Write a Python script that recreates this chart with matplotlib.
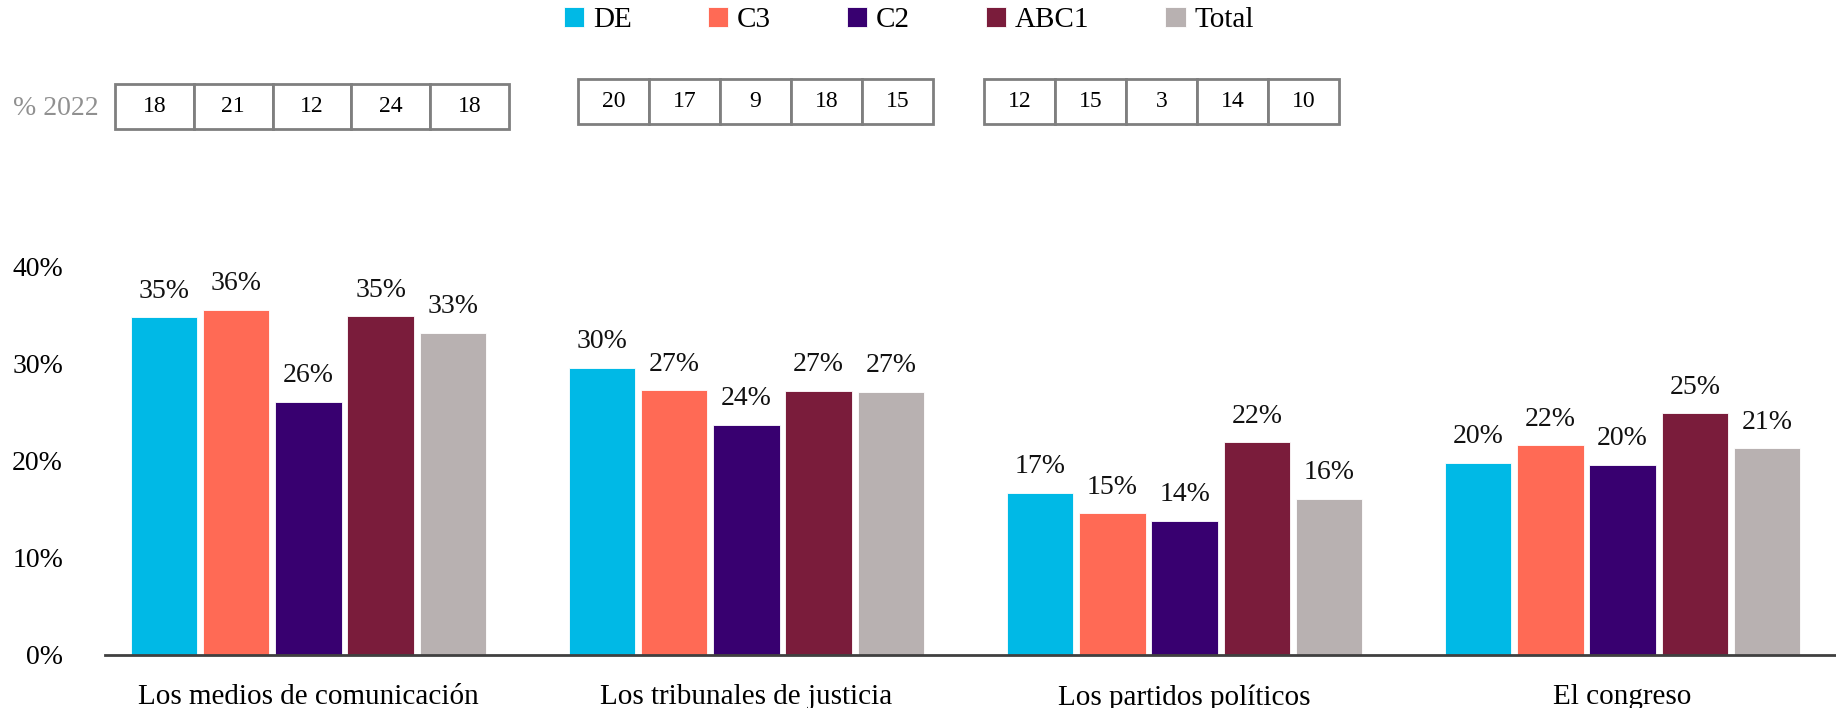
import matplotlib.pyplot as plt
import numpy as np

# datos
categorias = ['Los medios de comunicación', 'Los tribunales de justicia',
              'Los partidos políticos', 'El congreso']
series = ['DE', 'C3', 'C2', 'ABC1', 'Total']
de = [34.8, 29.6, 16.7, 19.8]
c3 = [35.6, 27.3, 14.6, 21.6]
c2 = [26.1, 23.7, 13.8, 19.6]
abc1 = [34.9, 27.2, 21.9, 24.9]
total = [33.2, 27.1, 16.1, 21.3]
colores = ['#00B9E6', '#FF6A55', '#380070', '#7A1C3B', '#B8B1B1']

# tabla % 2022 (solo las tres primeras categorías)
tabla_2022 = [[18, 21, 12, 24, 18],
              [20, 17, 9, 18, 15],
              [12, 15, 3, 14, 10]]

plt.rcParams['font.family'] = ['Liberation Serif', 'DejaVu Serif']

fig = plt.figure(figsize=(18.36, 7.08), dpi=100)
ax = fig.add_axes([0.057, 0.075, 0.943, 0.548])

x = np.arange(len(categorias))
ancho = 0.165
valores = [de, c3, c2, abc1, total]
for i, (nombre, vals, col) in enumerate(zip(series, valores, colores)):
    pos = x + (i - 2) * ancho
    barras = ax.bar(pos, vals, width=ancho * 0.92, color=col, label=nombre,
                    edgecolor='white', linewidth=0.6)
    for b, v in zip(barras, vals):
        ax.text(b.get_x() + b.get_width() / 2, v + 1.4, f'{round(v)}%',
                ha='center', va='bottom', fontsize=20, color='#111111',
                clip_on=False)

ax.set_xlim(-0.465, 3.487)
ax.set_ylim(0, 40)
ax.set_yticks([0, 10, 20, 30, 40])
ax.set_yticklabels([f'{t}%' for t in [0, 10, 20, 30, 40]], fontsize=20)
ax.set_xticks(x)
ax.set_xticklabels(categorias, fontsize=21)
ax.tick_params(axis='both', length=0)
ax.tick_params(axis='x', pad=21)
ax.tick_params(axis='y', pad=30)
for s in ['top', 'right', 'left']:
    ax.spines[s].set_visible(False)
ax.spines['bottom'].set_color('#404040')
ax.spines['bottom'].set_linewidth(2)

fig.legend(loc='center', bbox_to_anchor=(0.495, 0.972), ncol=5, frameon=False,
           fontsize=21, handlelength=0.7, handleheight=0.7, handletextpad=0.3,
           columnspacing=2.6)

# tablas % 2022
fig.text(0.007, 0.847, '% 2022', fontsize=20, color='#909090', va='center')
cajas = [[0.0626, 0.8178, 0.2146, 0.0636],
         [0.3148, 0.8249, 0.1934, 0.0636],
         [0.536, 0.8249, 0.1934, 0.0636]]
for caja, fila in zip(cajas, tabla_2022):
    tax = fig.add_axes(caja)
    tax.axis('off')
    t = tax.table(cellText=[[str(v) for v in fila]], cellLoc='center',
                  bbox=[0, 0, 1, 1])
    t.auto_set_font_size(False)
    for celda in t.get_celld().values():
        celda.set_edgecolor('#7F7F7F')
        celda.set_linewidth(2)
        celda.get_text().set_fontsize(17)

fig.savefig('out.png', dpi=100)
